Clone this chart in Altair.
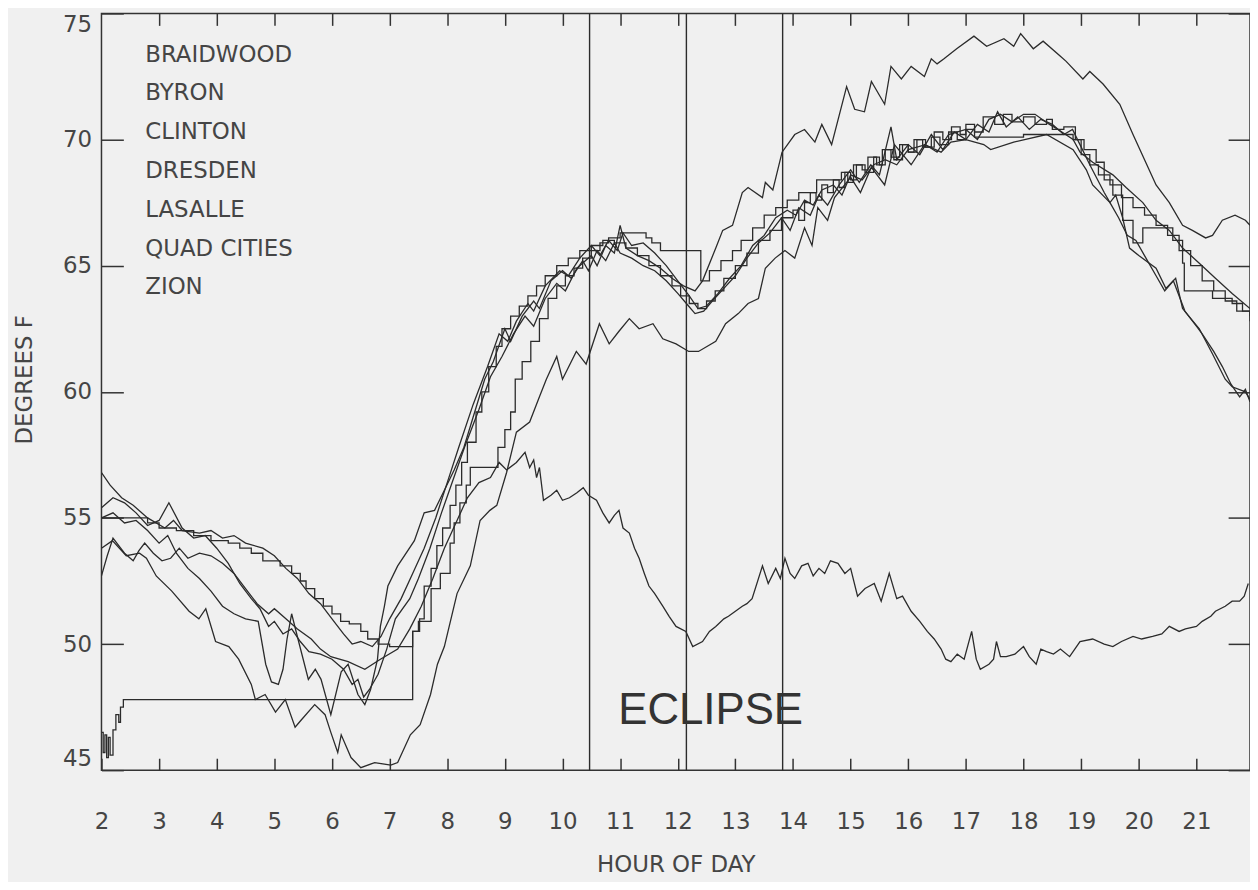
import altair as alt
import pandas as pd

STATIONS = ["BRAIDWOOD", "BYRON", "CLINTON", "DRESDEN", "LASALLE", "QUAD CITIES", "ZION"]
STEP_STATIONS = ["DRESDEN", "LASALLE"]
HOUR_TICKS = list(range(2, 22))
TOP_TICKS = list(range(3, 22))
TEMP_TICKS = [45, 50, 55, 60, 65, 70, 75]
ECLIPSE_HOURS = [10.47, 12.15, 13.82]
ECLIPSE_LABEL = ["ECLIPSE"]
ECLIPSE_LABEL_HOUR = [12.57]
ECLIPSE_LABEL_TEMP = [47.35]

# (hour, degrees F)
BRAIDWOOD = [
    (2.0, 56.8), (2.15, 56.3), (2.35, 55.8), (2.55, 55.5), (2.8, 55.0), (3.1, 54.6), (3.25, 54.9),
    (3.4, 54.5), (3.7, 54.4), (3.9, 54.5), (4.1, 54.2), (4.3, 54.3), (4.5, 54.0), (4.8, 53.8),
    (5.0, 53.5), (5.2, 53.0), (5.4, 52.6), (5.6, 52.0), (5.8, 51.6), (6.0, 51.0), (6.2, 50.4),
    (6.35, 50.0), (6.5, 50.1), (6.7, 49.9), (6.85, 50.3), (7.0, 51.0), (7.2, 51.8), (7.4, 52.8),
    (7.6, 53.8), (7.8, 55.0), (8.0, 56.4), (8.2, 57.8), (8.45, 59.5), (8.7, 61.0), (8.9, 62.3),
    (9.05, 62.0), (9.2, 62.8), (9.4, 63.5), (9.5, 63.2), (9.7, 64.2), (9.95, 64.8), (10.1, 64.6),
    (10.3, 65.3), (10.5, 65.8), (10.65, 65.4), (10.8, 66.0), (10.95, 65.6), (11.05, 66.3),
    (11.2, 65.8), (11.4, 65.9), (11.6, 65.5), (11.8, 65.0), (12.0, 64.4), (12.2, 63.8),
    (12.35, 63.3), (12.5, 63.4), (12.7, 63.9), (12.9, 64.5), (13.1, 65.0), (13.3, 65.8),
    (13.5, 66.2), (13.7, 66.9), (13.9, 67.2), (14.05, 67.0), (14.2, 67.6), (14.35, 67.4),
    (14.5, 68.0), (14.7, 68.2), (14.85, 67.8), (15.0, 68.6), (15.2, 68.4), (15.4, 69.0),
    (15.6, 69.2), (15.8, 69.0), (16.0, 69.6), (16.3, 69.8), (16.5, 69.5), (16.7, 70.2),
    (17.0, 70.4), (17.2, 70.0), (17.4, 70.8), (17.6, 71.0), (17.8, 70.7), (18.0, 71.0),
    (18.2, 71.0), (18.45, 70.6), (18.6, 70.4), (18.86, 70.0), (18.98, 69.5), (19.2, 69.1),
    (19.55, 68.6), (19.78, 68.1), (20.07, 67.5), (20.3, 66.8), (20.53, 66.4), (20.76, 65.7),
    (21.05, 65.1), (21.33, 64.5), (21.62, 63.9), (21.93, 63.3),
]

BYRON = [
    (2.0, 53.8), (2.19, 54.1), (2.43, 53.5), (2.66, 53.6), (2.78, 53.4), (2.95, 52.7), (3.22, 52.1),
    (3.52, 51.3), (3.69, 51.0), (3.81, 51.4), (3.98, 50.1), (4.21, 49.9), (4.38, 49.4), (4.6, 48.4),
    (4.67, 47.8), (4.84, 48.0), (5.02, 47.3), (5.19, 47.8), (5.36, 46.7), (5.47, 47.0), (5.7, 47.6),
    (5.88, 47.2), (5.98, 46.5), (6.1, 45.7), (6.16, 46.4), (6.33, 45.5), (6.5, 45.1), (6.74, 45.3),
    (7.02, 45.2), (7.14, 45.3), (7.36, 46.4), (7.53, 46.8), (7.71, 48.0), (7.83, 49.2), (7.95, 49.9),
    (8.17, 52.0), (8.4, 53.1), (8.57, 54.9), (8.74, 55.3), (8.86, 55.5), (9.03, 56.8), (9.2, 58.4),
    (9.43, 58.8), (9.6, 59.8), (9.72, 60.5), (9.9, 61.4), (10.0, 60.5), (10.24, 61.6), (10.41, 61.1),
    (10.64, 62.7), (10.81, 61.9), (10.98, 62.4), (11.16, 62.9), (11.33, 62.5), (11.57, 62.7),
    (11.74, 62.1), (11.97, 61.9), (12.19, 61.6), (12.36, 61.6), (12.66, 62.0), (12.83, 62.7),
    (13.05, 63.1), (13.22, 63.5), (13.4, 63.7), (13.52, 64.9), (13.69, 65.3), (13.86, 65.6),
    (14.03, 65.3), (14.2, 66.5), (14.33, 65.8), (14.43, 67.3), (14.6, 66.8), (14.72, 67.7),
    (15.0, 68.5), (15.17, 67.9), (15.36, 68.9), (15.59, 68.2), (15.76, 69.8), (16.05, 69.0),
    (16.28, 69.8), (16.57, 69.5), (16.74, 69.9), (17.0, 70.0), (17.31, 69.8), (17.43, 69.6),
    (17.83, 69.9), (18.4, 70.2), (18.86, 69.6), (19.09, 68.8), (19.2, 68.2), (19.5, 67.5),
    (19.6, 67.8), (19.72, 66.9), (19.84, 65.7), (20.0, 65.4), (20.3, 64.9), (20.47, 64.1),
    (20.64, 64.5), (20.76, 63.3), (21.05, 62.5), (21.28, 61.5), (21.5, 60.5), (21.62, 60.2),
    (21.85, 60.0), (21.93, 59.7),
]

CLINTON = [
    (2.0, 55.4), (2.2, 55.8), (2.4, 55.6), (2.6, 55.2), (2.8, 54.7), (3.0, 54.9), (3.17, 55.6),
    (3.4, 54.6), (3.6, 54.2), (3.8, 54.3), (4.0, 53.8), (4.2, 53.2), (4.4, 52.4), (4.6, 51.8),
    (4.75, 51.4), (4.9, 50.7), (5.0, 50.9), (5.15, 50.4), (5.3, 50.6), (5.45, 50.1), (5.6, 49.7),
    (5.8, 49.6), (6.0, 49.4), (6.2, 49.0), (6.35, 48.4), (6.45, 48.6), (6.55, 47.9), (6.65, 48.2),
    (6.8, 48.8), (6.95, 49.8), (7.1, 51.0), (7.35, 51.8), (7.5, 52.6), (7.7, 53.8), (7.9, 55.2),
    (8.1, 56.5), (8.3, 57.8), (8.55, 59.3), (8.75, 60.6), (8.95, 61.4), (9.15, 62.3), (9.35, 63.0),
    (9.5, 62.6), (9.7, 63.7), (9.9, 64.3), (10.05, 64.0), (10.25, 64.9), (10.5, 65.4), (10.6, 65.0),
    (10.75, 65.8), (10.9, 65.5), (11.0, 66.6), (11.1, 65.7), (11.3, 65.4), (11.5, 65.2),
    (11.7, 64.9), (11.9, 64.5), (12.1, 64.2), (12.3, 64.0), (12.43, 64.4), (12.66, 65.7),
    (12.78, 66.4), (12.95, 66.6), (13.12, 67.9), (13.22, 68.1), (13.47, 67.7), (13.52, 68.3),
    (13.65, 68.0), (13.81, 69.5), (14.03, 70.2), (14.2, 70.4), (14.38, 69.9), (14.5, 70.6),
    (14.67, 69.8), (14.93, 72.1), (15.07, 71.2), (15.24, 71.1), (15.36, 72.3), (15.59, 71.4),
    (15.7, 72.9), (15.88, 72.4), (16.05, 72.9), (16.28, 72.5), (16.4, 73.2), (16.5, 73.0),
    (16.62, 73.2), (16.84, 73.6), (17.14, 74.1), (17.36, 73.7), (17.66, 74.0), (17.83, 73.7),
    (17.95, 74.2), (18.17, 73.6), (18.34, 73.9), (18.64, 73.3), (18.74, 73.1), (19.03, 72.4),
    (19.15, 72.7), (19.38, 72.2), (19.67, 71.4), (19.9, 70.2), (20.12, 69.1), (20.3, 68.2),
    (20.53, 67.5), (20.76, 66.6), (20.93, 66.4), (21.16, 66.1), (21.28, 66.2), (21.45, 66.8),
    (21.67, 67.0), (21.85, 66.8), (21.93, 66.6),
]

DRESDEN = [
    (2.0, 46.5), (2.03, 45.7), (2.06, 46.4), (2.09, 45.5), (2.12, 46.3), (2.15, 45.6), (2.2, 46.6),
    (2.25, 47.2), (2.3, 46.9), (2.33, 47.5), (2.38, 47.8), (7.4, 50.5), (7.52, 51.0), (7.6, 52.3),
    (7.72, 53.0), (7.82, 53.9), (7.92, 54.6), (8.05, 55.5), (8.15, 56.3), (8.25, 57.2), (8.35, 58.0),
    (8.5, 59.2), (8.6, 60.0), (8.72, 61.0), (8.85, 61.8), (8.95, 62.5), (9.1, 63.0), (9.25, 63.4),
    (9.4, 63.8), (9.55, 64.2), (9.7, 64.6), (9.9, 65.0), (10.1, 65.3), (10.3, 65.6), (10.5, 65.8),
    (10.7, 66.0), (10.9, 65.9), (11.1, 65.7), (11.3, 65.4), (11.5, 65.0), (11.7, 64.6), (11.9, 64.2),
    (12.05, 63.8), (12.2, 63.5), (12.35, 63.3), (12.5, 63.6), (12.65, 64.0), (12.8, 64.5),
    (13.0, 65.0), (13.2, 65.5), (13.4, 66.0), (13.6, 66.4), (13.8, 66.9), (14.0, 67.2),
    (14.1, 66.8), (14.2, 67.5), (14.3, 67.9), (14.4, 67.6), (14.5, 68.2), (14.6, 67.9),
    (14.7, 68.4), (14.8, 68.1), (14.9, 68.7), (15.0, 68.4), (15.1, 69.0), (15.25, 68.7),
    (15.4, 69.3), (15.5, 69.0), (15.6, 69.6), (15.75, 69.2), (15.9, 69.8), (16.0, 69.5),
    (16.15, 70.0), (16.3, 69.7), (16.45, 70.3), (16.6, 70.0), (16.75, 70.5), (16.9, 70.2),
    (17.0, 70.6), (17.15, 70.3), (17.3, 70.9), (17.5, 70.6), (17.65, 71.0), (17.8, 70.7),
    (18.0, 70.9), (18.2, 70.6), (18.4, 70.8), (18.5, 70.4), (18.7, 70.5), (18.9, 70.0),
    (19.05, 69.6), (19.26, 69.1), (19.4, 68.4), (19.55, 67.8), (19.72, 66.8), (19.9, 65.9),
    (20.07, 66.5), (20.36, 66.5), (20.59, 66.0), (20.76, 65.1), (20.79, 64.0), (21.28, 63.7),
    (21.62, 63.5), (21.8, 63.2), (21.93, 63.0),
]

LASALLE = [
    (2.0, 55.0), (2.8, 54.8), (3.0, 54.6), (3.3, 54.5), (3.6, 54.3), (3.9, 54.1), (4.2, 54.0),
    (4.4, 53.8), (4.6, 53.6), (4.8, 53.3), (5.1, 53.1), (5.3, 52.8), (5.45, 52.5), (5.55, 52.2),
    (5.7, 51.8), (5.85, 51.5), (6.0, 51.2), (6.15, 50.9), (6.3, 50.8), (6.5, 50.5), (6.62, 50.2),
    (6.8, 50.0), (7.0, 49.9), (7.4, 50.5), (7.5, 50.9), (7.72, 52.2), (7.88, 52.8), (8.05, 54.0),
    (8.12, 54.8), (8.22, 55.6), (8.33, 56.3), (8.4, 57.0), (8.88, 57.8), (9.0, 58.5), (9.1, 59.2),
    (9.18, 60.5), (9.3, 61.2), (9.45, 62.0), (9.6, 62.9), (9.75, 63.7), (9.9, 64.2), (10.05, 64.6),
    (10.2, 64.9), (10.35, 65.3), (10.5, 65.6), (10.65, 65.9), (10.8, 66.1), (11.0, 66.3),
    (11.45, 66.1), (11.55, 65.9), (11.7, 65.6), (12.4, 64.4), (12.55, 64.8), (12.75, 65.2),
    (12.95, 65.6), (13.1, 66.0), (13.3, 66.5), (13.5, 67.0), (13.7, 67.3), (13.9, 67.6),
    (14.1, 67.9), (14.41, 68.4), (14.84, 68.7), (14.95, 68.3), (15.05, 69.0), (15.2, 68.8),
    (15.3, 69.3), (15.45, 69.0), (15.55, 69.6), (15.7, 69.3), (15.85, 69.8), (16.0, 69.5),
    (16.1, 70.0), (16.25, 69.7), (16.4, 70.1), (16.55, 69.8), (16.7, 70.3), (16.85, 70.0),
    (17.0, 70.4), (17.15, 70.1), (17.3, 70.1), (18.0, 70.2), (18.86, 70.0), (19.0, 69.4),
    (19.15, 69.0), (19.3, 68.6), (19.5, 68.2), (19.7, 67.7), (19.9, 67.3), (20.1, 67.0),
    (20.3, 66.6), (20.5, 66.2), (20.7, 65.6), (20.9, 65.0), (21.1, 64.4), (21.3, 64.0),
    (21.5, 63.6), (21.7, 63.2), (21.93, 62.8),
]

QUAD_CITIES = [
    (2.0, 55.0), (2.2, 55.2), (2.4, 54.8), (2.6, 54.9), (2.8, 54.5), (3.0, 54.0), (3.15, 54.3),
    (3.3, 53.6), (3.5, 53.0), (3.7, 52.6), (3.9, 52.1), (4.1, 51.5), (4.3, 51.2), (4.5, 51.0),
    (4.72, 50.9), (4.85, 49.2), (4.95, 48.5), (5.07, 48.4), (5.15, 49.0), (5.22, 50.2), (5.3, 51.2),
    (5.41, 50.2), (5.59, 48.6), (5.71, 49.0), (5.81, 48.6), (5.98, 47.2), (6.16, 48.9), (6.28, 49.2),
    (6.45, 48.0), (6.57, 47.6), (6.67, 48.2), (6.79, 49.4), (6.84, 50.7), (6.91, 51.5), (6.97, 52.3),
    (7.14, 53.1), (7.43, 54.1), (7.6, 55.2), (7.78, 55.3), (7.95, 56.1), (8.12, 56.9), (8.29, 57.8),
    (8.45, 59.0), (8.65, 60.5), (8.8, 61.2), (9.0, 62.5), (9.1, 62.0), (9.3, 63.0), (9.5, 63.6),
    (9.6, 63.3), (9.8, 64.4), (10.0, 64.8), (10.15, 64.5), (10.35, 65.2), (10.45, 64.8),
    (10.6, 65.6), (10.75, 65.2), (10.9, 65.9), (11.0, 65.5), (11.2, 65.3), (11.4, 65.0),
    (11.6, 64.8), (11.8, 64.4), (12.0, 63.9), (12.15, 63.5), (12.3, 63.1), (12.45, 63.2),
    (12.6, 63.6), (12.8, 64.1), (13.0, 64.6), (13.2, 65.3), (13.4, 65.9), (13.6, 66.3),
    (13.8, 66.9), (13.95, 66.4), (14.1, 67.3), (14.3, 67.0), (14.45, 67.8), (14.6, 67.4),
    (14.8, 68.2), (15.0, 68.8), (15.15, 68.3), (15.35, 69.0), (15.5, 68.6), (15.7, 70.5),
    (15.8, 69.2), (16.0, 69.8), (16.2, 69.4), (16.4, 70.2), (16.6, 69.6), (16.8, 70.3),
    (17.0, 70.0), (17.2, 70.6), (17.4, 70.3), (17.55, 71.1), (17.7, 70.5), (17.9, 70.9),
    (18.1, 70.4), (18.3, 70.8), (18.5, 70.6), (18.7, 70.2), (18.85, 70.4), (18.98, 69.8),
    (19.15, 69.0), (19.4, 67.9), (19.5, 67.5), (19.65, 66.9), (19.8, 66.2), (19.95, 66.0),
    (20.1, 65.4), (20.3, 64.6), (20.45, 64.0), (20.6, 64.4), (20.8, 63.2), (21.0, 62.6),
    (21.1, 62.3), (21.3, 61.6), (21.45, 61.0), (21.6, 60.3), (21.75, 59.8), (21.85, 60.1),
    (21.93, 59.6),
]

ZION = [
    (2.0, 52.7), (2.1, 53.5), (2.2, 54.2), (2.3, 53.9), (2.4, 53.6), (2.55, 53.3), (2.65, 53.7),
    (2.75, 54.0), (2.9, 53.6), (3.05, 53.3), (3.2, 53.4), (3.35, 53.8), (3.5, 53.4), (3.7, 53.6),
    (3.9, 53.5), (4.1, 53.2), (4.3, 52.8), (4.5, 52.2), (4.7, 51.6), (4.9, 51.2), (5.0, 51.4),
    (5.2, 51.0), (5.4, 50.6), (5.64, 50.2), (5.8, 49.8), (5.98, 49.5), (6.28, 49.3), (6.57, 49.0),
    (6.84, 49.4), (7.14, 49.8), (7.35, 50.6), (7.55, 51.5), (7.75, 52.6), (7.95, 53.8), (8.15, 54.8),
    (8.35, 55.8), (8.55, 56.4), (8.75, 56.6), (8.9, 57.2), (9.03, 56.9), (9.2, 57.2), (9.35, 57.6),
    (9.43, 57.0), (9.5, 57.3), (9.55, 56.6), (9.6, 57.0), (9.67, 55.7), (9.8, 55.9), (9.9, 56.1),
    (10.0, 55.7), (10.12, 55.8), (10.25, 56.0), (10.36, 56.2), (10.45, 55.9), (10.59, 55.7),
    (10.7, 55.2), (10.81, 54.8), (10.9, 55.1), (10.98, 55.3), (11.05, 54.6), (11.16, 54.4),
    (11.25, 53.8), (11.33, 53.4), (11.42, 52.8), (11.5, 52.3), (11.6, 52.0), (11.74, 51.5),
    (11.85, 51.1), (11.97, 50.7), (12.14, 50.5), (12.26, 49.9), (12.43, 50.1), (12.55, 50.5),
    (12.66, 50.7), (12.8, 51.0), (12.88, 51.1), (13.0, 51.3), (13.12, 51.5), (13.2, 51.6),
    (13.29, 51.8), (13.47, 53.1), (13.57, 52.4), (13.7, 53.0), (13.78, 52.6), (13.86, 53.4),
    (13.95, 52.8), (14.03, 52.6), (14.15, 53.1), (14.26, 53.2), (14.35, 52.7), (14.45, 53.0),
    (14.55, 52.8), (14.65, 53.3), (14.78, 53.2), (14.9, 52.8), (15.0, 53.0), (15.12, 51.9),
    (15.25, 52.2), (15.41, 52.4), (15.53, 51.7), (15.67, 52.8), (15.8, 51.8), (15.9, 51.9),
    (16.05, 51.3), (16.2, 50.9), (16.33, 50.5), (16.45, 50.2), (16.57, 49.8), (16.65, 49.4),
    (16.74, 49.3), (16.85, 49.6), (16.97, 49.4), (17.1, 50.5), (17.18, 49.4), (17.25, 49.0),
    (17.4, 49.2), (17.48, 49.4), (17.53, 50.1), (17.6, 49.5), (17.7, 49.5), (17.85, 49.6),
    (18.0, 49.9), (18.1, 49.5), (18.22, 49.2), (18.3, 49.8), (18.4, 49.7), (18.52, 49.6),
    (18.64, 49.8), (18.8, 49.5), (18.98, 50.1), (19.2, 50.2), (19.4, 50.0), (19.55, 49.9),
    (19.7, 50.1), (19.9, 50.3), (20.05, 50.2), (20.24, 50.3), (20.4, 50.4), (20.53, 50.7),
    (20.7, 50.5), (20.81, 50.6), (21.0, 50.7), (21.1, 50.9), (21.25, 51.1), (21.33, 51.3),
    (21.5, 51.5), (21.62, 51.7), (21.75, 51.7), (21.83, 51.9), (21.9, 52.4),
]

SERIES = {
    "BRAIDWOOD": BRAIDWOOD, "BYRON": BYRON, "CLINTON": CLINTON, "DRESDEN": DRESDEN,
    "LASALLE": LASALLE, "QUAD CITIES": QUAD_CITIES, "ZION": ZION,
}

rows = []
for name, pts in SERIES.items():
    for i, (h, t) in enumerate(pts):
        rows.append({"station": name, "hour": h, "temp": t, "i": i})
df = pd.DataFrame(rows)
df_smooth = df[~df["station"].isin(STEP_STATIONS)]
df_step = df[df["station"].isin(STEP_STATIONS)]

df_eclipse = pd.DataFrame({"hour": ECLIPSE_HOURS})
df_label = pd.DataFrame({"hour": ECLIPSE_LABEL_HOUR, "temp": ECLIPSE_LABEL_TEMP, "text": ECLIPSE_LABEL})

FONT = "DejaVu Sans"
TXT = "#454545"
INK = "#2b2b2b"

xscale = alt.Scale(domain=[2, 21.93], nice=False, zero=False)
yscale = alt.Scale(domain=[45, 75], nice=False, zero=False)

x_bottom = alt.Axis(
    values=HOUR_TICKS, offset=-12, tickSize=12, tickWidth=1.5, tickColor="#333",
    domain=False, grid=False, labelFlush=False, labelOverlap=False, labelBound=False,
    labelPadding=59, labelBaseline="alphabetic", labelFont=FONT, labelFontSize=23,
    labelColor=TXT, title="HOUR OF DAY", titleFont=FONT, titleFontSize=23,
    titleFontWeight="normal", titleColor=TXT, titleBaseline="alphabetic", titleY=114,
)
y_left = alt.Axis(
    values=TEMP_TICKS, offset=-22, tickSize=22, tickWidth=1.5, tickColor="#333",
    domain=False, grid=False, labelFlush=True, labelOverlap=False, labelPadding=10,
    labelFont=FONT, labelFontSize=23, labelColor=TXT, title="DEGREES F", titleFont=FONT,
    titleFontSize=23, titleFontWeight="normal", titleColor=TXT, titleAngle=270,
    titleBaseline="middle", titleX=-99, titleY=368,
)
x_top = alt.Axis(
    orient="top", values=TOP_TICKS, offset=-12, tickSize=12, tickWidth=1.5, tickColor="#333",
    domain=False, grid=False, labels=False, title=None,
)
y_right = alt.Axis(
    orient="right", values=TEMP_TICKS, offset=-22, tickSize=22, tickWidth=1.5, tickColor="#333",
    domain=False, grid=False, labels=False, title=None,
)

color = alt.Color(
    "station:N",
    scale=alt.Scale(domain=STATIONS, range=[INK] * len(STATIONS)),
    legend=alt.Legend(
        title=None, orient="none", legendX=21, legendY=30, symbolSize=0, symbolOpacity=0,
        symbolStrokeWidth=0, labelOffset=0, labelFont=FONT, labelFontSize=23, labelColor=TXT,
        rowPadding=15, padding=0, labelLimit=400,
    ),
)

smooth = alt.Chart(df_smooth).mark_line(strokeWidth=1.3, clip=True).encode(
    x=alt.X("hour:Q", scale=xscale, axis=x_bottom),
    y=alt.Y("temp:Q", scale=yscale, axis=y_left),
    color=color,
    order="i:Q",
)
steps = alt.Chart(df_step).mark_line(strokeWidth=1.3, clip=True, interpolate="step-after").encode(
    x=alt.X("hour:Q", scale=xscale, axis=None),
    y=alt.Y("temp:Q", scale=yscale, axis=None),
    color=color,
    order="i:Q",
)
eclipse = alt.Chart(df_eclipse).mark_rule(color=INK, strokeWidth=1.4).encode(
    x=alt.X("hour:Q", scale=xscale, axis=None),
)
label = alt.Chart(df_label).mark_text(
    font="Liberation Sans", fontSize=44, color="#333", align="center", baseline="middle"
).encode(
    x=alt.X("hour:Q", scale=xscale, axis=x_top),
    y=alt.Y("temp:Q", scale=yscale, axis=y_right),
    text="text:N",
)

chart = (
    alt.layer(smooth, steps, eclipse, label)
    .resolve_axis(x="independent", y="independent")
    .properties(
        width=1155, height=761, autosize="none",
        padding={"left": 94, "top": 3, "right": 0, "bottom": 110},
        background="#f0f0f0",
    )
    .configure_view(stroke="#333", strokeWidth=1.5)
)

chart.save("out.html", embed_options={"renderer": "svg", "actions": False})
